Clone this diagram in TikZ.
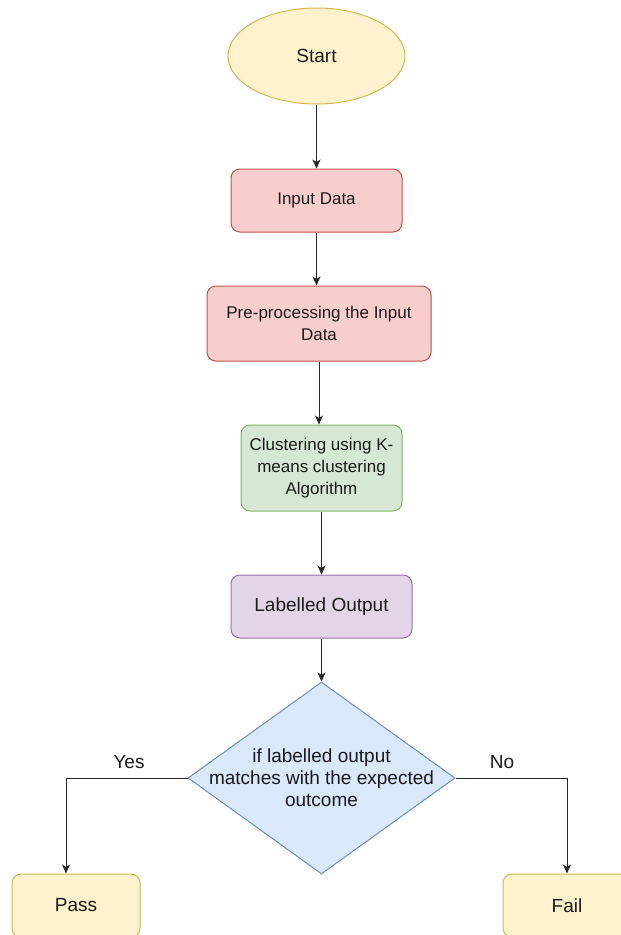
\documentclass[tikz,border=0pt]{standalone}
\usepackage{fontspec}
\setmainfont{Liberation Sans}
\usetikzlibrary{shapes.geometric,arrows.meta,positioning}
\definecolor{yelF}{HTML}{FFF2CC}\definecolor{yelD}{HTML}{D6B656}
\definecolor{redF}{HTML}{F8CECC}\definecolor{redD}{HTML}{B85450}
\definecolor{grnF}{HTML}{D5E8D4}\definecolor{grnD}{HTML}{82B366}
\definecolor{purF}{HTML}{E1D5E7}\definecolor{purD}{HTML}{9673A6}
\definecolor{bluF}{HTML}{DAE8FC}\definecolor{bluD}{HTML}{6C8EBF}
\definecolor{txt}{HTML}{1A1A1A}
\tikzset{
  box/.style={rectangle, rounded corners=9pt, line width=1pt, inner sep=0pt, align=center, text=txt},
  small/.style={font=\fontsize{17}{22}\selectfont},
  big/.style={font=\fontsize{19}{22}\selectfont},
  conn/.style={line width=1pt, draw=black!85, -{Stealth[length=9pt,width=8pt,inset=2.5pt]}},
  lbl/.style={big, text=txt, inner sep=0pt}
}
\begin{document}
\begin{tikzpicture}[x=1pt,y=-1pt]
\useasboundingbox (0,0) rectangle (621,935);
\fill[white] (0,0) rectangle (621,935);
\clip (0,0) rectangle (621,935);

\node[ellipse, draw=yelD, fill=yelF, line width=1pt, minimum width=177pt, minimum height=96pt, inner sep=0pt, big, text=txt] (start) at (316.5,56) {Start};
\node[box, small, draw=redD, fill=redF, minimum width=171pt, minimum height=63pt] (input) at (316.5,200.5) {Input Data};
\node[box, small, draw=redD, fill=redF, minimum width=224pt, minimum height=75pt] (pre) at (319,323.5) {Pre-processing the Input\\Data};
\node[box, small, draw=grnD, fill=grnF, minimum width=161pt, minimum height=86pt] (clu) at (321.5,468) {Clustering using K-\\means clustering\\Algorithm};
\node[box, big, draw=purD, fill=purF, minimum width=181pt, minimum height=63pt] (lab) at (321.5,606.5) {Labelled Output};
\node[diamond, draw=bluD, fill=bluF, line width=1pt, minimum width=267pt, minimum height=192pt, inner sep=0pt] (dec) at (321.5,778) {};
\node[big, align=center, text=txt, inner sep=0pt] (dectext) at (321.5,778) {if labelled output\\matches with the expected\\outcome};
\node[box, big, draw=yelD, fill=yelF, minimum width=128pt, minimum height=63pt] (pass) at (76,905.5) {Pass};
\node[box, big, draw=yelD, fill=yelF, minimum width=128pt, minimum height=63pt] (fail) at (567,905.5) {Fail};

\coordinate (passin) at ([xshift=-10pt]pass.north);
\coordinate (ycorner) at (passin |- dec.west);
\coordinate (ncorner) at (fail.north |- dec.east);

\draw[conn] (start.south) -- (input.north);
\draw[conn] (input.south) -- (pre.north -| input.south);
\draw[conn] (pre.south) -- (pre.south |- clu.north);
\draw[conn] (clu.south) -- (clu.south |- lab.north);
\draw[conn] (lab.south) -- (dec.north);
\draw[conn] (dec.west) -- (ycorner) -- (passin);
\draw[conn] (dec.east) -- (ncorner) -- (fail.north);

\node[lbl] (yes) at (129,762) {Yes};
\node[lbl] (no) at (502,762) {No};
\end{tikzpicture}
\end{document}
